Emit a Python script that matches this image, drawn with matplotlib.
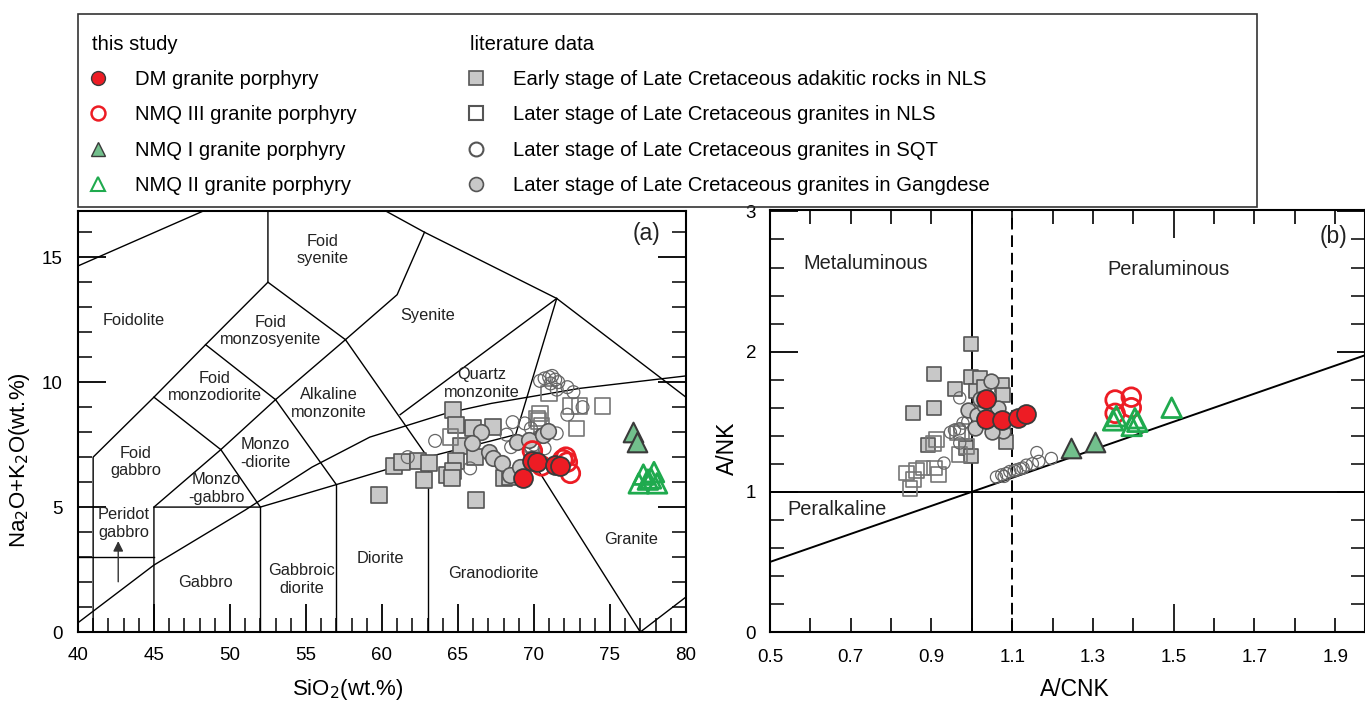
import matplotlib
matplotlib.use("Agg")
import matplotlib.pyplot as plt
from matplotlib.lines import Line2D
from matplotlib.patches import Rectangle
import numpy as np

plt.rcParams['font.family'] = ['Liberation Sans', 'DejaVu Sans']

# ---------------- data: panel (a) TAS ----------------
dm_sio2 = [69.3, 69.9, 70.2, 71.4, 71.7]
dm_alk = [6.15, 6.85, 6.8, 6.7, 6.65]
nmq3_sio2 = [69.9, 70.5, 71.9, 72.2, 72.4, 72.1]
nmq3_alk = [7.25, 6.65, 6.9, 6.8, 6.35, 7.0]
nmq1_sio2 = [76.5, 76.8]
nmq1_alk = [8.0, 7.6]
nmq2_sio2 = [77.2, 77.9, 77.7, 76.9, 78.1, 77.5]
nmq2_alk = [6.3, 6.4, 6.15, 5.95, 5.95, 6.1]
early_sio2 = [59.8, 60.8, 61.3, 62.4, 63.1, 62.8, 64.7, 64.9, 65.2, 64.9, 64.3, 64.7,
              64.6, 66.1, 66.0, 67.3, 66.2, 68.0, 68.4]
early_alk = [5.5, 6.65, 6.8, 6.85, 6.75, 6.1, 8.9, 8.3, 7.45, 6.85, 6.3, 6.45,
             6.15, 7.0, 8.15, 8.2, 5.3, 6.15, 6.2]
nls_sio2 = [71.0, 74.5, 72.8, 72.4, 73.0, 70.4, 70.3, 70.5, 64.5, 70.2, 69.9]
nls_alk = [9.55, 9.05, 8.15, 9.05, 9.05, 8.75, 8.45, 8.25, 7.8, 8.55, 7.5]
sqt_sio2 = [70.4, 70.7, 71.0, 71.2, 71.4, 71.1, 71.6, 72.2, 72.6, 71.5, 73.2, 72.2, 69.4,
            69.8, 71.5, 70.3, 70.7, 63.5, 65.8, 68.6, 68.2, 68.5, 61.7, 69.0, 70.0]
sqt_alk = [10.05, 10.15, 10.2, 10.25, 10.1, 9.95, 10.0, 9.8, 9.6, 9.7, 9.0, 8.7, 8.35,
           8.15, 7.95, 7.8, 7.35, 7.65, 6.55, 8.4, 7.9, 7.4, 7.0, 7.6, 7.5]
gd_sio2 = [66.5, 65.9, 67.05, 67.3, 67.9, 68.4, 68.9, 69.7, 70.6, 70.9, 69.1]
gd_alk = [8.0, 7.55, 7.2, 6.95, 6.75, 6.3, 7.6, 7.7, 7.9, 8.05, 6.6]

# TAS (plutonic) field boundaries
tas_lines = [
    [(41, 0), (41, 7), (45, 9.4), (48.4, 11.5), (52.5, 14), (52.5, 17)],
    [(40, 14.65), (49, 17.05)],
    [(60.1, 16.9), (62.8, 16), (71.5, 13.35), (80, 9.4)],
    [(62.8, 16), (61, 13.5), (57.6, 11.7), (52.5, 14)],
    [(57.6, 11.7), (63, 7)],
    [(48.4, 11.5), (53, 9.3), (57.6, 11.7)],
    [(45, 9.4), (49.4, 7.3), (53, 9.3)],
    [(53, 9.3), (57, 5.9)],
    [(49.4, 7.3), (52, 5)],
    [(45, 5), (49.4, 7.3)],
    [(45, 0), (45, 5), (52, 5), (57, 5.9), (63, 7), (68.8, 7.9)],
    [(52, 0), (52, 5)],
    [(57, 0), (57, 5.9)],
    [(63, 0), (63, 7)],
    [(40, 3), (45, 3)],
    [(61.2, 8.7), (71.5, 13.35)],
    [(71.5, 13.35), (68.8, 7.9), (77, 0), (80, 1.4)],
]
alk_curve_x = [40, 45, 51, 55.4, 59.2, 64.2, 67.2, 73, 80]
alk_curve_y = [0.37, 2.68, 4.88, 6.6, 7.8, 8.75, 9.15, 9.75, 10.25]

tas_labels = [
    ("Foid\nsyenite", 56.1, 15.3), ("Foidolite", 43.7, 12.45), ("Syenite", 63.0, 12.65),
    ("Foid\nmonzosyenite", 52.7, 12.05), ("Foid\nmonzodiorite", 49.0, 9.8),
    ("Alkaline\nmonzonite", 56.5, 9.15), ("Quartz\nmonzonite", 66.6, 9.95),
    ("Foid\ngabbro", 43.8, 6.8), ("Monzo\n-diorite", 52.3, 7.15), ("Monzo\n-gabbro", 49.1, 5.75),
    ("Peridot\ngabbro", 43.0, 4.35), ("Granite", 76.4, 3.7), ("Diorite", 59.9, 2.95),
    ("Granodiorite", 67.3, 2.35), ("Gabbroic\ndiorite", 54.7, 2.1), ("Gabbro", 48.4, 2.0),
]

# ---------------- data: panel (b) A/NK vs A/CNK ----------------
dm_acnk = [1.035, 1.035, 1.075, 1.115, 1.135]
dm_ank = [1.665, 1.52, 1.51, 1.53, 1.555]
nmq3_acnk = [1.355, 1.395, 1.355, 1.395]
nmq3_ank = [1.655, 1.675, 1.56, 1.6]
nmq1_acnk = [1.245, 1.305]
nmq1_ank = [1.31, 1.355]
nmq2_acnk = [1.358, 1.404, 1.396, 1.495, 1.35, 1.41]
nmq2_ank = [1.54, 1.525, 1.47, 1.6, 1.51, 1.5]
early_acnk = [0.997, 0.907, 0.997, 1.02, 0.958, 1.074, 1.076, 0.855, 0.907, 0.892, 0.985,
              0.999, 1.084, 1.01, 1.03]
early_ank = [2.055, 1.843, 1.82, 1.81, 1.73, 1.764, 1.69, 1.562, 1.598, 1.336, 1.316,
             1.257, 1.352, 1.72, 1.75]
nls_acnk = [0.838, 0.847, 0.855, 0.863, 0.879, 0.908, 0.917, 0.913, 0.905, 0.97, 0.975,
            0.987, 0.965]
nls_ank = [1.134, 1.026, 1.086, 1.152, 1.169, 1.169, 1.121, 1.371, 1.345, 1.264, 1.431,
           1.324, 1.42]
sqt_acnk = [0.931, 0.947, 0.957, 0.97, 0.978, 0.97, 0.97, 0.99, 1.061, 1.074, 1.085, 1.094,
            1.105, 1.111, 1.12, 1.127, 1.135, 1.15, 1.166, 1.161, 1.197, 1.08]
sqt_ank = [1.205, 1.424, 1.44, 1.45, 1.49, 1.348, 1.67, 1.5, 1.105, 1.121, 1.13, 1.145,
           1.15, 1.157, 1.165, 1.17, 1.19, 1.2, 1.217, 1.28, 1.238, 1.11]
gd_acnk = [1.047, 0.99, 1.012, 1.057, 1.078, 1.007, 1.03, 1.06, 1.02, 1.05, 1.065]
gd_ank = [1.788, 1.586, 1.55, 1.479, 1.431, 1.452, 1.62, 1.55, 1.66, 1.43, 1.6]

# ---------------- styles ----------------
RED = '#ED1C24'
GREEN_F = '#72BF8C'
GREEN_O = '#1FAA4E'
GREY_F = '#C8C8C8'
DARK = '#3a3a3a'

labels_this = ["DM granite porphyry", "NMQ III granite porphyry",
               "NMQ I granite porphyry", "NMQ II granite porphyry"]
labels_lit = ["Early stage of Late Cretaceous adakitic rocks in NLS",
              "Later stage of Late Cretaceous granites in NLS",
              "Later stage of Late Cretaceous granites in SQT",
              "Later stage of Late Cretaceous granites in Gangdese"]


def draw_points(ax, sets, scale=1.0):
    (early, nls, sqt, gd, nmq3, dm, nmq1, nmq2) = sets
    ax.scatter(*early, s=125 * scale, marker='s', facecolor=GREY_F, edgecolor='#555555', lw=1.2, zorder=3)
    ax.scatter(*nls, s=125 * scale, marker='s', facecolor='none', edgecolor='#777777', lw=1.2, zorder=3)
    ax.scatter(*sqt, s=85 * scale, marker='o', facecolor='none', edgecolor='#666666', lw=0.9, zorder=3)
    ax.scatter(*gd, s=125 * scale, marker='o', facecolor=GREY_F, edgecolor='#555555', lw=1.2, zorder=4)
    ax.scatter(*nmq3, s=180, marker='o', facecolor='none', edgecolor=RED, lw=2.0, zorder=5)
    ax.scatter(*dm, s=185, marker='o', facecolor=RED, edgecolor=DARK, lw=1.3, zorder=6)
    ax.scatter(*nmq1, s=200, marker='^', facecolor=GREEN_F, edgecolor=DARK, lw=1.5, zorder=5)
    ax.scatter(*nmq2, s=200, marker='^', facecolor='none', edgecolor=GREEN_O, lw=2.0, zorder=5)


fig = plt.figure(figsize=(13.65, 7.01), dpi=100)

# ---------------- panel (a) ----------------
ax_a = fig.add_axes([0.0571, 0.0984, 0.4454, 0.6006])
for seg in tas_lines:
    xs, ys = zip(*seg)
    ax_a.plot(xs, ys, color='black', lw=1.0, zorder=2)
ax_a.plot(alk_curve_x, alk_curve_y, color='black', lw=1.0, zorder=2)
ax_a.annotate('', xy=(42.65, 3.75), xytext=(42.65, 1.9),
              arrowprops=dict(arrowstyle='-|>', color='#333333', lw=1.0, mutation_scale=15))
for txt, x, y in tas_labels:
    ax_a.text(x, y, txt, fontsize=11.8, ha='center', va='center', color='#222222', linespacing=1.2)
ax_a.text(77.4, 15.95, "(a)", fontsize=16.5, ha='center', va='center', color='#222222')

draw_points(ax_a, [(early_sio2, early_alk), (nls_sio2, nls_alk), (sqt_sio2, sqt_alk),
                   (gd_sio2, gd_alk), (nmq3_sio2, nmq3_alk), (dm_sio2, dm_alk),
                   (nmq1_sio2, nmq1_alk), (nmq2_sio2, nmq2_alk)])

ax_a.set_xlim(40, 80)
ax_a.set_ylim(0, 16.85)
ax_a.set_xticks(np.arange(40, 81, 5))
ax_a.set_xticks(np.arange(40, 81, 1), minor=True)
ax_a.set_yticks([0, 5, 10, 15])
ax_a.set_yticks(np.arange(0, 17, 1), minor=True)
ax_a.tick_params(which='major', direction='in', length=20, width=1.3, top=False, right=True,
                 labelsize=13.5, pad=11)
ax_a.tick_params(which='minor', direction='in', length=10, width=1.1, top=False, right=True)
ax_a.set_xlabel('SiO$_2$(wt.%)', fontsize=16)
ax_a.set_ylabel('Na$_2$O+K$_2$O(wt.%)', fontsize=16)
ax_a.xaxis.set_label_coords(0.444, -0.108)
ax_a.yaxis.set_label_coords(-0.075, 0.408)
for sp in ax_a.spines.values():
    sp.set_linewidth(1.5)

# ---------------- panel (b) ----------------
ax_b = fig.add_axes([0.5641, 0.0984, 0.4359, 0.6020])
ax_b.axvline(1.0, color='black', lw=1.4, zorder=2)
ax_b.axvline(1.1, color='black', lw=1.4, ls=(0, (6, 3)), zorder=2)
ax_b.axhline(1.0, color='black', lw=1.4, zorder=2)
ax_b.plot([0.5, 2.0], [0.5, 2.0], color='black', lw=1.4, zorder=2)
ax_b.text(0.737, 2.63, "Metaluminous", fontsize=14.4, ha='center', va='center', color='#222222')
ax_b.text(1.487, 2.585, "Peraluminous", fontsize=14.4, ha='center', va='center', color='#222222')
ax_b.text(0.666, 0.875, "Peralkaline", fontsize=14.4, ha='center', va='center', color='#222222')
ax_b.text(1.897, 2.82, "(b)", fontsize=16.5, ha='center', va='center', color='#222222')

draw_points(ax_b, [(early_acnk, early_ank), (nls_acnk, nls_ank), (sqt_acnk, sqt_ank),
                   (gd_acnk, gd_ank), (nmq3_acnk, nmq3_ank), (dm_acnk, dm_ank),
                   (nmq1_acnk, nmq1_ank), (nmq2_acnk, nmq2_ank)], scale=0.9)

ax_b.set_xlim(0.5, 1.974)
ax_b.set_ylim(0, 3.01)
ax_b.set_xticks(np.arange(0.5, 1.95, 0.2))
ax_b.set_xticklabels(['0.5', '0.7', '0.9', '1.1', '1.3', '1.5', '1.7', '1.9'])
ax_b.set_xticks(np.arange(0.6, 1.95, 0.2), minor=True)
ax_b.set_yticks([0, 1, 2, 3])
ax_b.set_yticks(np.arange(0, 3.01, 0.2), minor=True)
ax_b.tick_params(axis='x', which='both', direction='in', length=10, width=1.2, top=True,
                 labelsize=13.5, pad=12)
ax_b.tick_params(axis='y', which='major', direction='in', length=20, width=1.3, right=True,
                 labelsize=13.5, pad=10)
ax_b.tick_params(axis='y', which='minor', direction='in', length=10, width=1.1, right=True)
t15 = ax_b.xaxis.get_major_ticks()[5]
t15.tick1line.set_markersize(20)
t15.tick2line.set_markersize(20)
ax_b.set_xlabel('A/CNK', fontsize=16.5)
ax_b.set_ylabel('A/NK', fontsize=16.5)
ax_b.xaxis.set_label_coords(0.513, -0.108)
ax_b.yaxis.set_label_coords(-0.052, 0.436)
for sp in ax_b.spines.values():
    sp.set_linewidth(1.5)

# ---------------- legend ----------------
fig.add_artist(Rectangle((0.0571, 0.7047), 0.8638, 0.2753, transform=fig.transFigure,
                         fill=False, lw=1.2, ec='#333333'))
h_this = [
    Line2D([], [], ls='none', marker='o', ms=10, mfc=RED, mec=DARK, mew=1.0),
    Line2D([], [], ls='none', marker='o', ms=10, mfc='none', mec=RED, mew=1.8),
    Line2D([], [], ls='none', marker='^', ms=10, mfc=GREEN_F, mec=DARK, mew=1.0),
    Line2D([], [], ls='none', marker='^', ms=10, mfc='none', mec=GREEN_O, mew=1.5),
]
h_lit = [
    Line2D([], [], ls='none', marker='s', ms=10, mfc=GREY_F, mec='#555555', mew=1.2),
    Line2D([], [], ls='none', marker='s', ms=10, mfc='none', mec='#555555', mew=1.5),
    Line2D([], [], ls='none', marker='o', ms=10, mfc='none', mec='#555555', mew=1.5),
    Line2D([], [], ls='none', marker='o', ms=10, mfc=GREY_F, mec='#555555', mew=1.2),
]
common = dict(loc='upper left', frameon=False, fontsize=14.6, title_fontsize=14.6,
              alignment='left', labelspacing=0.8, handlelength=0.6, handletextpad=1.5,
              borderpad=0, borderaxespad=0)
fig.legend(handles=h_this, labels=labels_this, title='this study',
           bbox_to_anchor=(92 / 1365, 1 - 35 / 701), **common)
fig.legend(handles=h_lit, labels=labels_lit, title='literature data',
           bbox_to_anchor=(470 / 1365, 1 - 35 / 701), **common)

fig.savefig('out.png', dpi=100)
